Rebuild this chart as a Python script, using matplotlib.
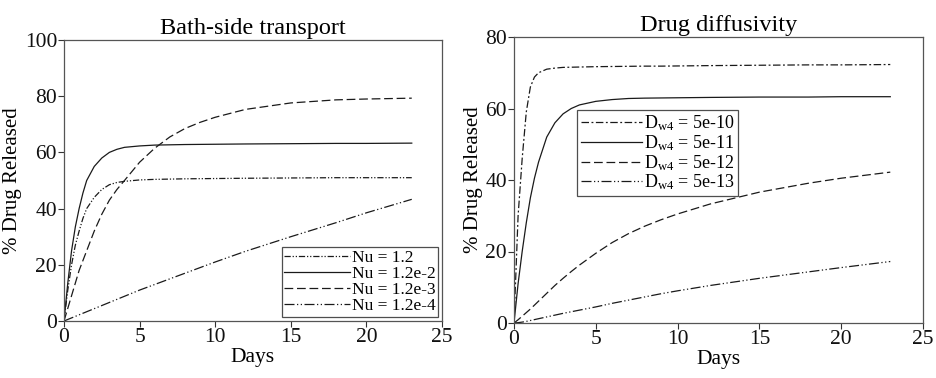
import numpy as np
import matplotlib
matplotlib.use("Agg")
import matplotlib.pyplot as plt

plt.rcParams['font.family'] = ['Liberation Serif', 'DejaVu Serif']
plt.rcParams['mathtext.fontset'] = 'custom'
plt.rcParams['mathtext.rm'] = 'Liberation Serif'
plt.rcParams['mathtext.it'] = 'Liberation Serif:italic'

# Bath-side transport (left panel)
nu_labels = ["Nu = 1.2", "Nu = 1.2e-2", "Nu = 1.2e-3", "Nu = 1.2e-4"]
nu_x = [0, 0.25, 0.5, 0.75, 1, 1.25, 1.5, 2, 2.5, 3, 3.5, 4, 5, 6, 7, 8, 9, 10, 12, 15, 18, 20, 23]
nu_12 = [0, 11, 20, 27, 32, 36.5, 40, 44, 46.8, 48.5, 49.3, 49.7, 50.2, 50.4, 50.5, 50.6, 50.65,
         50.7, 50.8, 50.9, 51, 51, 51]
nu_12e2 = [0, 13.5, 25, 33.5, 40, 45.5, 50, 55, 58, 60, 61.1, 61.8, 62.3, 62.6, 62.7, 62.8, 62.85,
           62.9, 63, 63.1, 63.2, 63.2, 63.3]
nu_12e3 = [0, 4.5, 9, 13.5, 18, 21.5, 25, 32, 38, 43, 46.8, 50, 56.5, 61.5, 65.5, 68.5, 70.7,
           72.5, 75.3, 77.6, 78.7, 79, 79.3]
nu_12e4 = [0, 0.55, 1.1, 1.65, 2.2, 2.75, 3.3, 4.4, 5.5, 6.6, 7.7, 8.8, 11, 13, 15, 17, 19, 21,
           24.8, 30, 35, 38.5, 43.3]

# Drug diffusivity (right panel)
dw_labels = [r"D$_{\rm w4}$ = 5e-10", r"D$_{\rm w4}$ = 5e-11",
             r"D$_{\rm w4}$ = 5e-12", r"D$_{\rm w4}$ = 5e-13"]
dw_x = [0, 0.25, 0.5, 0.75, 1, 1.25, 1.5, 2, 2.5, 3, 3.5, 4, 5, 6, 7, 8, 9, 10, 12, 15, 18, 20, 23]
dw_5e10 = [0, 30, 46, 59, 66, 68.8, 70, 71, 71.3, 71.5, 71.55, 71.6, 71.7, 71.75, 71.8, 71.85,
           71.85, 71.9, 72, 72.1, 72.2, 72.2, 72.3]
dw_5e11 = [0, 11, 20, 28, 35, 40.5, 45, 52, 56, 58.5, 60, 61, 62, 62.5, 62.8, 62.9, 62.95, 63,
           63.1, 63.2, 63.2, 63.3, 63.3]
dw_5e12 = [0, 0.9, 1.9, 2.9, 3.9, 5, 6.1, 8.3, 10.5, 12.5, 14.4, 16.2, 19.5, 22.5, 25, 27.1, 28.9,
           30.5, 33.3, 36.6, 39.1, 40.5, 42.2]
dw_5e13 = [0, 0.1, 0.25, 0.45, 0.7, 0.95, 1.2, 1.7, 2.2, 2.7, 3.15, 3.6, 4.5, 5.5, 6.4, 7.3, 8.2,
           9, 10.5, 12.5, 14.3, 15.5, 17.2]

col = '#1a1a1a'
dashdotdot_short = (0, (5, 1.5, 1, 1.5, 1, 1.5))
dashdotdot_long = (0, (8, 2, 1, 2, 1, 2))
dashdot = (0, (6, 2, 1.5, 2))
dashed = (0, (7, 3))

fig = plt.figure(figsize=(9.37, 3.78), dpi=100)
ax1 = fig.add_axes([64 / 937, 1 - 321 / 378, 378 / 937, 281 / 378])
ax2 = fig.add_axes([514 / 937, 1 - 323 / 378, 409 / 937, 286 / 378])

ax1.plot(nu_x, nu_12, color=col, lw=0.9, linestyle=dashdotdot_short, label=nu_labels[0])
ax1.plot(nu_x, nu_12e2, color=col, lw=0.9, linestyle='-', label=nu_labels[1])
ax1.plot(nu_x, nu_12e3, color=col, lw=0.9, linestyle=dashed, label=nu_labels[2])
ax1.plot(nu_x, nu_12e4, color=col, lw=0.9, linestyle=dashdotdot_long, label=nu_labels[3])
ax1.set_ylim(0, 100)
ax1.set_yticks([0, 20, 40, 60, 80, 100])
ax1.set_title("Bath-side transport", fontsize=17.5, pad=4)

ax2.plot(dw_x, dw_5e10, color=col, lw=0.9, linestyle=dashdot, label=dw_labels[0])
ax2.plot(dw_x, dw_5e11, color=col, lw=0.9, linestyle='-', label=dw_labels[1])
ax2.plot(dw_x, dw_5e12, color=col, lw=0.9, linestyle=dashed, label=dw_labels[2])
ax2.plot(dw_x, dw_5e13, color=col, lw=0.9, linestyle=dashdotdot_long, label=dw_labels[3])
ax2.set_ylim(0, 80)
ax2.set_yticks([0, 20, 40, 60, 80])
ax2.set_title("Drug diffusivity", fontsize=17.5, pad=4)

for ax in (ax1, ax2):
    ax.set_xlim(0, 25)
    ax.set_xticks([0, 5, 10, 15, 20, 25])
    ax.set_xlabel("Days", fontsize=15.5, labelpad=1)
    ax.set_ylabel("% Drug Released", fontsize=15, labelpad=2)
    ax.tick_params(labelsize=15.5, direction='out', length=4, width=0.8, pad=1,
                   colors='#333333', labelcolor='#111111')
    for s in ax.spines.values():
        s.set_color('#555555')
        s.set_linewidth(0.9)

leg1 = ax1.legend(loc='lower right', bbox_to_anchor=(0.99, 0.015), fontsize=12.5,
                  frameon=True, fancybox=False, edgecolor='#222222', handlelength=3.8,
                  handletextpad=0.1, labelspacing=0.0, borderpad=0.15, borderaxespad=0)
leg1.get_frame().set_linewidth(0.9)
leg2 = ax2.legend(loc='upper left', bbox_to_anchor=(0.155, 0.745), fontsize=13,
                  frameon=True, fancybox=False, edgecolor='#222222', handlelength=3.4,
                  handletextpad=0.1, labelspacing=0.0, borderpad=0.2, borderaxespad=0)
leg2.get_frame().set_linewidth(0.9)

fig.savefig("out.png", dpi=100)
